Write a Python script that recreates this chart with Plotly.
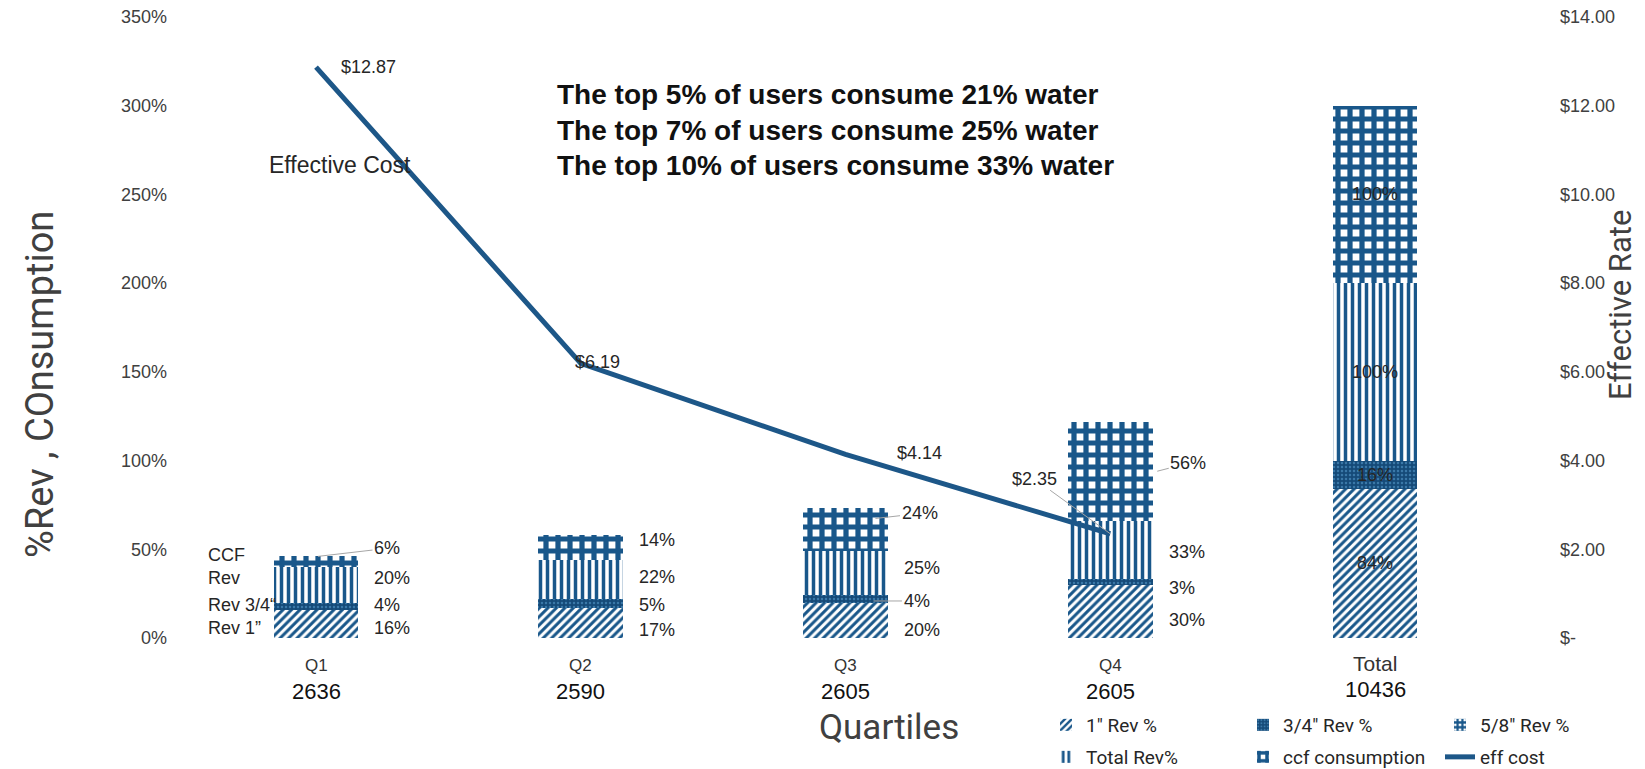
import plotly.graph_objects as go

# ---- data -------------------------------------------------------------
categories = ["Q1", "Q2", "Q3", "Q4", "Total"]
customer_counts = ["2636", "2590", "2605", "2605", "10436"]

rev_1in = [0.16, 0.17, 0.20, 0.30, 0.84]        # 1" Rev %
rev_34in = [0.04, 0.05, 0.04, 0.03, 0.16]       # 3/4" Rev %
rev_58in = [0.0, 0.0, 0.0, 0.0, 0.0]            # 5/8" Rev %
total_rev = [0.20, 0.22, 0.25, 0.33, 1.00]      # Total Rev%
ccf_consumption = [0.06, 0.14, 0.24, 0.56, 1.00]

eff_cost_cats = ["Q1", "Q2", "Q3", "Q4"]
eff_cost = [12.87, 6.19, 4.14, 2.35]

left_tickvals = [0, 0.5, 1.0, 1.5, 2.0, 2.5, 3.0, 3.5]
right_tickvals = [0, 2, 4, 6, 8, 10, 12, 14]
right_ticktext = ["$-", "$2.00", "$4.00", "$6.00", "$8.00", "$10.00", "$12.00", "$14.00"]

headline = [
    "The top 5% of users consume 21% water",
    "The top 7% of users consume 25% water",
    "The top 10% of users consume 33% water",
]

# ---- geometry / style -------------------------------------------------
W, H = 1645, 769
PL, PR, PT, PB = 180, 1545, 17, 638          # plot area in pixels
X_RANGE = [-0.5137, 4.6421]
BAR_W = 0.32
X_PX = (PR - PL) / (X_RANGE[1] - X_RANGE[0])
HALF_BAR_PX = BAR_W / 2 * X_PX

BLUE = "#19578a"
DARK_BLUE = "#154a78"
LINE_BLUE = "#1d5788"
TXT = "#262626"
AXT = "#404040"
LEADER = "#a6a6a6"
SANS = "Liberation Sans, Arial, sans-serif"
NARROW = "Roboto, Liberation Sans, sans-serif"


def paper_x(px):
    return (px - PL) / (PR - PL)


def paper_y(py):
    return (PB - py) / (PB - PT)


fig = go.Figure()

bar_specs = [
    ("1\" Rev %", rev_1in, dict(shape="/", fgcolor=BLUE, bgcolor="white", size=6, solidity=0.5), "legend"),
    ("3/4\" Rev %", rev_34in, dict(shape=".", fgcolor="#3a78a8", bgcolor=DARK_BLUE, size=4, solidity=0.3), "legend"),
    ("5/8\" Rev %", rev_58in, dict(shape="+", fgcolor=BLUE, bgcolor="white", size=6, solidity=0.7), "legend"),
    ("Total Rev%", total_rev, dict(shape="|", fgcolor=BLUE, bgcolor="white", size=7, solidity=0.5), "legend2"),
    ("ccf consumption", ccf_consumption, dict(shape="+", fgcolor=BLUE, bgcolor="white", size=12, solidity=0.68), "legend2"),
]
for name, vals, pattern, leg in bar_specs:
    fig.add_trace(go.Bar(
        x=categories, y=vals, name=name, width=BAR_W,
        marker=dict(color="white", line=dict(width=0), pattern=dict(fgopacity=1, **pattern)),
        legend=leg, hoverinfo="skip",
    ))

fig.add_trace(go.Scatter(
    x=eff_cost_cats, y=eff_cost, name="eff cost", yaxis="y2", mode="lines",
    line=dict(color=LINE_BLUE, width=5), legend="legend2", hoverinfo="skip",
))

# ---- value labels on the stacked bars ---------------------------------
segments = [rev_1in, rev_34in, total_rev, ccf_consumption]
# vertical nudges (px, up positive) for each segment label, per quartile
label_dy = [
    [-4, -7, -10, -9],
    [1, -2, -2, -6],
    [7, 2, 5, -2],
    [14, 8, 17, 8],
]
# labels tied to their segment with a leader line: (segment, quartile) -> point shift, text offset
leaders = {
    (3, 0): dict(anchor="top", sx=2, sy=0, ax=69, ay=-8),
    (3, 2): dict(anchor="top", sx=30, sy=-10, ax=44, ay=-5),
    (1, 2): dict(anchor="mid", sx=28, sy=-2, ax=43, ay=0),
    (3, 3): dict(anchor="mid", sx=47, sy=0, ax=31, ay=-8),
}

label_font = dict(family=SANS, size=18, color=TXT)
annotations = []
for i, cat in enumerate(categories):
    base = 0.0
    for s, seg in enumerate(segments):
        v = seg[i]
        mid = base + v / 2
        top = base + v
        text = f"{round(v * 100)}%"
        if cat == "Total":
            annotations.append(dict(x=cat, y=mid, xref="x", yref="y", text=text, showarrow=False,
                                    xanchor="center", yanchor="middle", font=label_font))
        elif (s, i) in leaders:
            ld = leaders[(s, i)]
            annotations.append(dict(
                x=cat, y=top if ld["anchor"] == "top" else mid, xref="x", yref="y",
                xshift=ld["sx"], yshift=ld["sy"], ax=ld["ax"], ay=ld["ay"],
                text=text, showarrow=True, arrowhead=0, arrowwidth=1, arrowcolor=LEADER,
                font=label_font))
        else:
            annotations.append(dict(
                x=cat, y=mid, xref="x", yref="y", xanchor="left", yanchor="middle",
                xshift=HALF_BAR_PX + 14, yshift=label_dy[s][i],
                text=text, showarrow=False, font=label_font))
        base = top

# row captions beside the first bar
q1_captions = ["Rev 1\u201d", "Rev 3/4\u201c", "Rev", "CCF"]
q1_caption_dy = [-4, 1, 7, 7]
base = 0.0
for s, seg in enumerate(segments):
    annotations.append(dict(
        x=categories[0], y=base + seg[0] / 2, xref="x", yref="y", xanchor="left", yanchor="middle",
        xshift=206 - (PL + (0 - X_RANGE[0]) * X_PX), yshift=q1_caption_dy[s],
        text=q1_captions[s], showarrow=False, font=label_font))
    base += seg[0]

# ---- effective cost labels --------------------------------------------
cost_label_pos = [dict(xshift=52, yshift=0), dict(xshift=17, yshift=1), dict(xshift=74, yshift=1), None]
for i, (cat, v) in enumerate(zip(eff_cost_cats, eff_cost)):
    text = f"${v:.2f}"
    pos = cost_label_pos[i]
    if pos is None:
        annotations.append(dict(x=cat, y=v, xref="x", yref="y2", ax=-76, ay=-55,
                                text=text, showarrow=True, arrowhead=0, arrowwidth=1,
                                arrowcolor=LEADER, font=label_font))
    else:
        annotations.append(dict(x=cat, y=v, xref="x", yref="y2", showarrow=False, text=text,
                                xanchor="center", yanchor="middle",
                                xshift=pos["xshift"], yshift=pos["yshift"], font=label_font))


def free_text(px, py, text, font, **kw):
    d = dict(x=paper_x(px), y=paper_y(py), xref="paper", yref="paper", text=text,
             showarrow=False, xanchor="center", yanchor="middle", font=font)
    d.update(kw)
    annotations.append(d)


free_text(340, 165, "Effective Cost", dict(family=SANS, size=23, color=TXT))

for k, line in enumerate(headline):
    free_text(555, 94 + 36 * k, f"<b>{line}</b>", dict(family=SANS, size=28, color="#111111"),
              xanchor="left")

# ---- category captions -------------------------------------------------
for cat, cnt in zip(categories, customer_counts):
    big = cat == "Total"
    annotations.append(dict(x=cat, y=paper_y(663 if big else 665), xref="x", yref="paper",
                            text=cat, showarrow=False, xanchor="center", yanchor="middle",
                            font=dict(family=SANS, size=21 if big else 17, color="#333333")))
    annotations.append(dict(x=cat, y=paper_y(689 if big else 691), xref="x", yref="paper",
                            text=cnt, showarrow=False, xanchor="center", yanchor="middle",
                            font=dict(family=SANS, size=22, color="#111111")))

# ---- axis titles -------------------------------------------------------
free_text(889, 727, "Quartiles", dict(family=NARROW, size=35, color=AXT))
free_text(40, 385, "%Rev , COnsumption", dict(family=NARROW, size=38, color=AXT), textangle=-90)
free_text(1621, 305, "Effective Rate", dict(family=NARROW, size=31, color=AXT), textangle=-90)

legend_common = dict(orientation="h", xanchor="left", yanchor="middle",
                     traceorder="normal",
                     entrywidth=152, entrywidthmode="pixels",
                     font=dict(family=NARROW, size=19, color=TXT),
                     bgcolor="rgba(0,0,0,0)", itemclick=False, itemdoubleclick=False)

fig.update_layout(
    width=W, height=H,
    margin=dict(l=PL, r=W - PR, t=PT, b=H - PB, autoexpand=False),
    paper_bgcolor="white", plot_bgcolor="white",
    barmode="stack",
    showlegend=True,
    legend=dict(x=paper_x(1046), y=paper_y(725), **legend_common),
    legend2=dict(x=paper_x(1046), y=paper_y(757), **legend_common),
    xaxis=dict(type="category", categoryorder="array", categoryarray=categories,
               range=X_RANGE, showticklabels=False, showgrid=False, zeroline=False,
               showline=False, ticks=""),
    yaxis=dict(range=[0, 3.5], tickvals=left_tickvals, tickformat=".0%",
               showgrid=False, zeroline=False, showline=False, ticks="",
               ticklabelstandoff=12, tickfont=dict(family=SANS, size=18, color=AXT)),
    yaxis2=dict(range=[0, 14], overlaying="y", side="right", tickvals=right_tickvals,
                ticktext=right_ticktext, showgrid=False, zeroline=False, showline=False,
                ticks="", ticklabelstandoff=14, tickfont=dict(family=SANS, size=18, color=AXT)),
    annotations=annotations,
)

fig.write_html("out.html")
